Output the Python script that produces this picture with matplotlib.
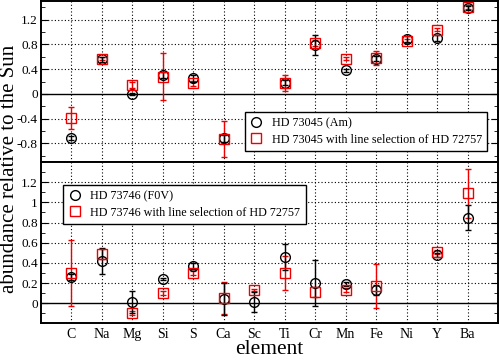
import numpy as np
import matplotlib
matplotlib.use("Agg")
import matplotlib.pyplot as plt
from matplotlib.ticker import MultipleLocator, FuncFormatter
from matplotlib.lines import Line2D

plt.rcParams['font.family'] = ['Liberation Serif', 'DejaVu Serif']
plt.rcParams['mathtext.fontset'] = 'stix'

elements = ["C", "Na", "Mg", "Si", "S", "Ca", "Sc", "Ti", "Cr", "Mn", "Fe", "Ni", "Y", "Ba"]
nan = np.nan

# Top panel: HD 73045 (Am)
am_val = [-0.71, 0.56, 0.00, 0.31, 0.25, -0.72, nan, 0.18, 0.79, 0.38, 0.57, 0.89, 0.91, 1.39]
am_err = [0.03, 0.04, 0.02, 0.05, 0.05, 0.05, nan, 0.04, 0.16, 0.03, 0.04, 0.05, 0.05, 0.03]
am_ls_val = [-0.39, 0.57, 0.14, 0.28, 0.17, -0.73, nan, 0.17, 0.82, 0.57, 0.58, 0.85, 1.04, 1.41]
am_ls_err = [0.18, 0.03, 0.05, 0.38, 0.04, 0.29, nan, 0.13, 0.05, 0.02, 0.11, 0.03, 0.03, 0.03]

# Bottom panel: HD 73746 (F0V)
f_val = [0.26, 0.42, 0.01, 0.24, 0.37, 0.04, 0.01, 0.46, 0.20, 0.19, 0.13, nan, 0.48, 0.85]
f_err = [0.03, 0.13, 0.11, 0.01, 0.03, 0.16, 0.10, 0.13, 0.23, 0.02, 0.05, nan, 0.02, 0.12]
f_ls_val = [0.30, 0.49, -0.10, 0.10, 0.30, 0.05, 0.13, 0.30, 0.11, 0.13, 0.17, nan, 0.51, 1.09]
f_ls_err = [0.33, 0.05, 0.02, 0.02, 0.02, 0.16, 0.01, 0.17, 0.05, 0.02, 0.215, nan, 0.02, 0.24]

x = np.arange(1, len(elements) + 1)

fig = plt.figure(figsize=(5.0, 3.6), dpi=100)
L, R = 0.0814, 0.996
ax1 = fig.add_axes([L, 0.55, R - L, 0.447])
ax2 = fig.add_axes([L, 0.1014, R - L, 0.4486])

red = '#ee0000'
MS = 7

def draw(ax, v1, e1, v2, e2, lab1, lab2):
    ax.errorbar(x, v2, yerr=e2, fmt='none', ecolor=red, elinewidth=1.0, capsize=2, capthick=1.0, zorder=3)
    ax.errorbar(x, v1, yerr=e1, fmt='none', ecolor='black', elinewidth=1.0, capsize=2, capthick=1.0, zorder=3)
    ax.plot(x, v1, 'o', mfc='none', mec='black', ms=MS, mew=1.0, zorder=4)
    ax.plot(x, v2, 's', mfc='none', mec=red, ms=MS, mew=1.0, zorder=4)
    ax.axhline(0, color='black', lw=1.0, zorder=2)
    ax.set_xlim(0, 15)
    ax.set_xticks(x)
    for xi in x:
        ax.axvline(xi, color='black', lw=0.8, ls=(0, (1, 2)), zorder=1)
    ax.tick_params(axis='x', length=0)
    ax.tick_params(axis='y', which='both', direction='in', left=True, right=True, labelsize=9.5, pad=2)
    ax.tick_params(axis='y', which='major', length=5)
    ax.tick_params(axis='y', which='minor', length=3)
    for s in ax.spines.values():
        s.set_linewidth(1.4)
    h1 = Line2D([], [], marker='o', ls='none', mfc='none', mec='black', ms=MS, mew=1.0)
    h2 = Line2D([], [], marker='s', ls='none', mfc='none', mec=red, ms=MS, mew=1.0)
    return [h1, h2], [lab1, lab2]

fmt = FuncFormatter(lambda v, p: ('%g' % round(v, 2)).replace('\u2212', '-'))

legkw = dict(fontsize=8.7, frameon=True, fancybox=False, edgecolor='black', framealpha=1,
             borderpad=0.45, labelspacing=0.35, handletextpad=0.8, handlelength=1.0, borderaxespad=0)

hs, ls = draw(ax1, am_val, am_err, am_ls_val, am_ls_err, "HD 73045 (Am)", "HD 73045 with line selection of HD 72757")
ax1.set_ylim(-1.1, 1.5)
ax1.yaxis.set_major_locator(MultipleLocator(0.4))
ax1.yaxis.set_minor_locator(MultipleLocator(0.2))
ax1.yaxis.set_major_formatter(fmt)
for yv in [-0.8, -0.4, 0.4, 0.8, 1.2]:
    ax1.axhline(yv, color='black', lw=0.8, ls=(0, (1, 2)), zorder=1)
ax1.tick_params(axis='x', labelbottom=False)
leg1 = ax1.legend(hs, ls, loc='lower right', bbox_to_anchor=(0.977, 0.068), **legkw)
leg1.get_frame().set_linewidth(1.0)

hs, ls = draw(ax2, f_val, f_err, f_ls_val, f_ls_err, "HD 73746 (F0V)", "HD 73746 with line selection of HD 72757")
ax2.set_ylim(-0.2, 1.4)
ax2.yaxis.set_major_locator(MultipleLocator(0.2))
ax2.yaxis.set_minor_locator(MultipleLocator(0.1))
ax2.yaxis.set_major_formatter(fmt)
for yv in [0.2, 0.4, 0.6, 0.8, 1.0, 1.2]:
    ax2.axhline(yv, color='black', lw=0.8, ls=(0, (1, 2)), zorder=1)
ax2.set_xticklabels(elements, fontsize=10)
ax2.tick_params(axis='x', pad=3)
ax2.set_yticks([0, 0.2, 0.4, 0.6, 0.8, 1.0, 1.2])
leg2 = ax2.legend(hs, ls, loc='upper left', bbox_to_anchor=(0.049, 0.858), **legkw)
leg2.get_frame().set_linewidth(1.0)

fig.text(0.538, 0.004, "element", fontsize=15.5, ha='center', va='bottom')
fig.text(0.0, 0.53, "abundance relative to the Sun", rotation=90, fontsize=15, ha='left', va='center')

fig.savefig("out.png", dpi=100)
